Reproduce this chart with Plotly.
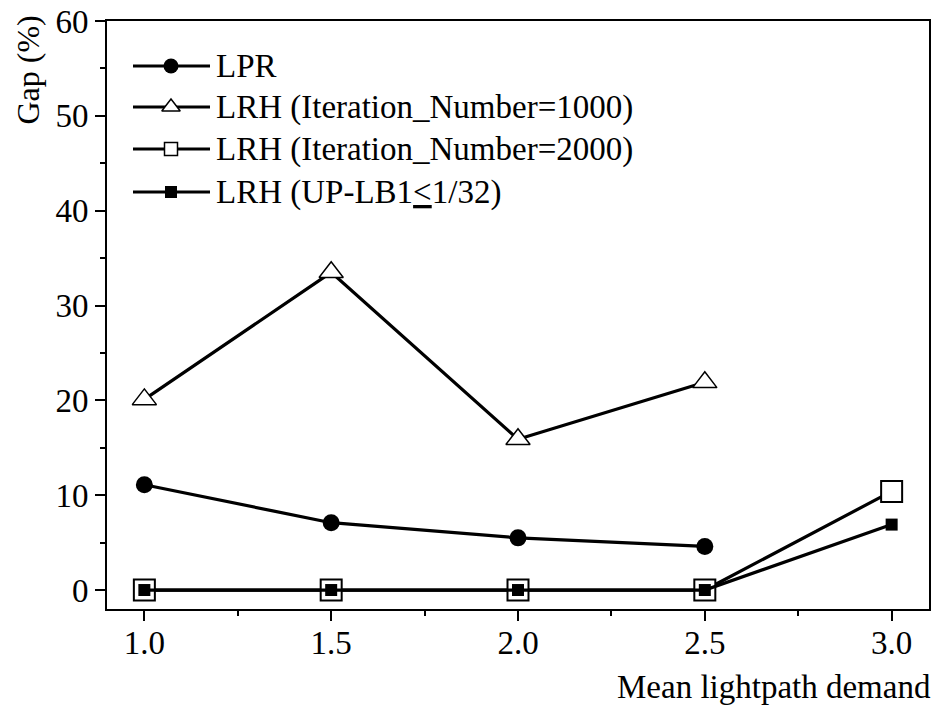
import plotly.graph_objects as go

# ---- data ----
demand = [1.0, 1.5, 2.0, 2.5, 3.0]
lpr = [11.1, 7.1, 5.5, 4.6]
lrh_1000 = [20.1, 33.5, 15.9, 21.9]
lrh_2000 = [0.0, 0.0, 0.0, 0.0, 10.4]
lrh_uplb = [0.0, 0.0, 0.0, 0.0, 6.9]
legend_names = ["LPR", "LRH (Iteration_Number=1000)", "LRH (Iteration_Number=2000)",
                "LRH (UP-LB1<u>&lt;</u>1/32)"]
x_ticks = [1.0, 1.5, 2.0, 2.5, 3.0]
y_ticks = [0, 10, 20, 30, 40, 50, 60]

W, H = 937, 709
L, R, T, B = 107, 8, 21, 100
FONT = "Liberation Serif, Times New Roman, serif"

def px(x):
    return (x - L) / (W - L - R)

def py(y):
    return (H - B - y) / (H - T - B)

fig = go.Figure()

LW = 3.2
fig.add_trace(go.Scatter(x=demand[:4], y=lrh_1000, mode="lines+markers",
                         line=dict(color="black", width=LW),
                         marker=dict(symbol="triangle-up", size=21, color="white",
                                     line=dict(color="black", width=1.5)),
                         showlegend=False, cliponaxis=False))
fig.add_trace(go.Scatter(x=demand[:4], y=lpr, mode="lines+markers",
                         line=dict(color="black", width=LW),
                         marker=dict(symbol="circle", size=17, color="black"),
                         showlegend=False, cliponaxis=False))
fig.add_trace(go.Scatter(x=demand, y=lrh_2000, mode="lines+markers",
                         line=dict(color="black", width=LW),
                         marker=dict(symbol="square", size=21, color="white",
                                     line=dict(color="black", width=2)),
                         showlegend=False, cliponaxis=False))
fig.add_trace(go.Scatter(x=demand, y=lrh_uplb, mode="lines+markers",
                         line=dict(color="black", width=LW),
                         marker=dict(symbol="square", size=12, color="black"),
                         showlegend=False, cliponaxis=False))

# ---- custom legend on a pixel-space overlay axis ----
leg_rows = [66, 107, 149, 192]
leg_x0, leg_x1, leg_xm = 133, 210, 171
leg_markers = [
    dict(symbol="circle", size=15, color="black"),
    dict(symbol="triangle-up", size=16, color="white", line=dict(color="black", width=1.5)),
    dict(symbol="square", size=13, color="white", line=dict(color="black", width=1.5)),
    dict(symbol="square", size=12, color="black"),
]
for yy, mk, name in zip(leg_rows, leg_markers, legend_names):
    fig.add_trace(go.Scatter(x=[leg_x0, leg_x1], y=[yy, yy], mode="lines",
                             line=dict(color="black", width=LW),
                             xaxis="x2", yaxis="y2", showlegend=False, hoverinfo="skip"))
    fig.add_trace(go.Scatter(x=[leg_xm], y=[yy], mode="markers", marker=mk,
                             xaxis="x2", yaxis="y2", showlegend=False, hoverinfo="skip"))
    fig.add_annotation(x=px(214), y=py(yy), xref="paper", yref="paper",
                       text=name, showarrow=False, xanchor="left", yanchor="middle",
                       font=dict(family=FONT, size=33, color="black"))

fig.add_annotation(x=px(27), y=py(14), xref="paper", yref="paper", text="Gap (%)",
                   textangle=-90, showarrow=False, xanchor="center", yanchor="top",
                   font=dict(family=FONT, size=32, color="black"))
fig.add_annotation(x=px(933), y=py(687), xref="paper", yref="paper",
                   text="Mean lightpath demand", showarrow=False,
                   xanchor="right", yanchor="middle",
                   font=dict(family=FONT, size=33, color="black"))

axis_common = dict(showline=True, linecolor="black", linewidth=2, mirror=True,
                   ticks="outside", ticklen=10, tickwidth=2, tickcolor="black",
                   showgrid=False, zeroline=False,
                   tickfont=dict(family=FONT, size=33, color="black"))

fig.update_layout(
    width=W, height=H,
    margin=dict(l=L, r=R, t=T, b=B),
    paper_bgcolor="white", plot_bgcolor="white",
    xaxis=dict(range=[0.9, 3.1], tickvals=x_ticks, ticktext=[f"{v:.1f}" for v in x_ticks],
               minor=dict(dtick=0.25, tick0=0, ticks="outside", ticklen=5,
                          tickwidth=2, tickcolor="black"),
               ticklabelstandoff=-7,
               automargin=False, **axis_common),
    yaxis=dict(range=[-2, 60], tickvals=y_ticks,
               minor=dict(dtick=5, tick0=0, ticks="outside", ticklen=5,
                          tickwidth=2, tickcolor="black"),
               automargin=False, **axis_common),
    xaxis2=dict(range=[L, W - R], overlaying="x", visible=False, fixedrange=True),
    yaxis2=dict(range=[H - B, T], overlaying="y", visible=False, fixedrange=True),
    showlegend=False,
)

fig.write_html("out.html")
